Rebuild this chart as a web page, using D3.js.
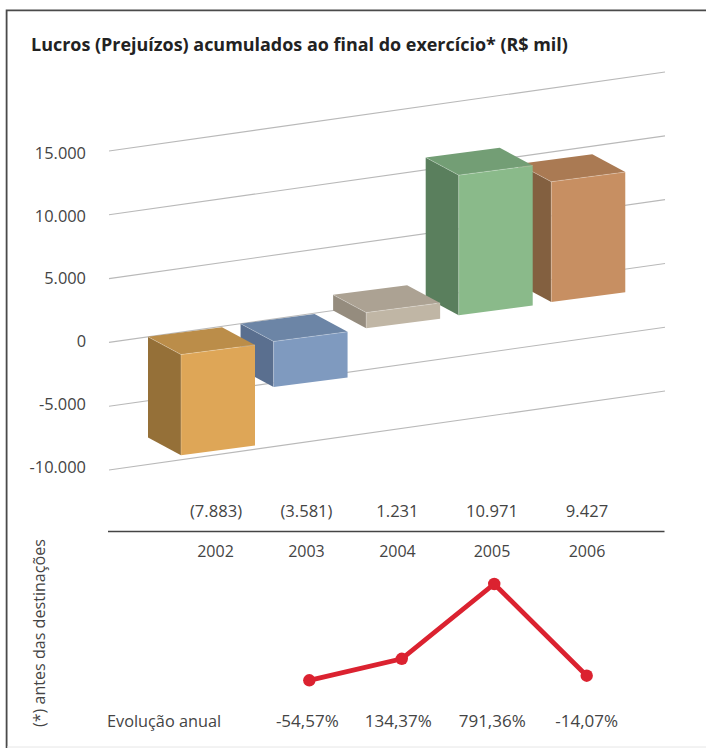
<!DOCTYPE html>
<html><head><meta charset="utf-8">
<style>html,body{margin:0;padding:0;background:#fff}svg{display:block}text{font-family:"Open Sans",sans-serif;fill:#444}</style>
<script src="https://cdn.jsdelivr.net/npm/d3@7"></script></head><body>
<script>
const titleText = "Lucros (Prejuízos) acumulados ao final do exercício* (R$ mil)";
const noteText = "(*) antes das destinações";
const rowLabel = "Evolução anual";
const years = ["2002","2003","2004","2005","2006"];
const profits = [-7883,-3581,1231,10971,9427];
const profitLabels = ["(7.883)","(3.581)","1.231","10.971","9.427"];
const growthYears = ["2003","2004","2005","2006"];
const growth = [-54.57,134.37,791.36,-14.07];
const growthLabels = ["-54,57%","134,37%","791,36%","-14,07%"];
const gridValues = [-10000,-5000,0,5000,10000,15000];
const gridLabels = ["-10.000","-5.000","0","5.000","10.000","15.000"];
const frontColors = ["#dea657","#7f9abf","#c0b6a5","#8aba8a","#c78f62"];
const sideColors  = ["#957038","#5a6f8f","#958c7e","#5a7f5d","#836040"];
const topColors   = ["#bb8d49","#6c85a6","#aca293","#739e75","#aa7a53"];

const W=706,H=749;
const svg=d3.select("body").append("svg").attr("width",W).attr("height",H);
svg.append("path").attr("d","M706,10.3H6.6V748").attr("fill","none").attr("stroke","#4a4a4a").attr("stroke-width",1.8);
svg.append("line").attr("x1",7).attr("x2",706).attr("y1",747).attr("y2",747).attr("stroke","#e6e6e6").attr("stroke-width",1);
svg.append("text").text(titleText).attr("x",31).attr("y",50.5).attr("font-size",17.95).attr("font-weight",700).style("fill","#222");

const gridL=109,gridR=665,slope=0.142,barSlope=0.13,depthX=33,depthY=17.7,barStep=92.57,barW=74;
const y=d3.scaleLinear().domain([-10000,15000]).range([470,151]);
const yLabel=d3.scaleLinear().domain([-10000,15000]).range([472.6,159]);
const x=d3.scaleBand().domain(years).range([148,148+barStep*4+barW]).paddingInner(1-barW/barStep).paddingOuter(0);
const xc=d3.scalePoint().domain(years).range([215.5,587]);
const labelNudge=[0,-1.9,-3.8,-2.1,0];

// gridlines and ticks
svg.append("g").selectAll("line").data(gridValues).join("line")
 .attr("x1",gridL).attr("x2",gridR).attr("y1",d=>y(d)).attr("y2",d=>y(d)-slope*(gridR-gridL))
 .attr("stroke","#b9b9b9").attr("stroke-width",1.1);
svg.append("g").selectAll("text").data(gridValues).join("text")
 .text((d,i)=>gridLabels[i]).attr("x",86).attr("y",d=>yLabel(d)).attr("text-anchor","end").attr("font-size",16.4);

// bars: painted right to left so nearer left bars overlap
const xb=i=>x(years[i]);
const base=(xp,v)=>y(v)-slope*(xp-gridL);
const order=d3.range(years.length).reverse();
const bars=svg.append("g");
const edge="rgba(255,255,255,0.3)";
order.forEach(i=>{
  const x0=xb(i), hi=Math.max(profits[i],0), lo=Math.min(profits[i],0);
  const t=base(x0,hi), b=base(x0,lo), dy=barSlope*barW;
  const g=bars.append("g");
  g.append("polygon").attr("fill",sideColors[i]).attr("points",[[x0,t],[x0+depthX,t+depthY],[x0+depthX,b+depthY],[x0,b]].join(" "));
  g.append("polygon").attr("fill",topColors[i]).attr("points",[[x0,t],[x0+barW,t-dy],[x0+barW+depthX,t-dy+depthY],[x0+depthX,t+depthY]].join(" "));
  g.append("polygon").attr("fill",frontColors[i]).attr("points",[[x0+depthX,t+depthY],[x0+depthX+barW,t+depthY-dy],[x0+depthX+barW,b+depthY-dy],[x0+depthX,b+depthY]].join(" "));
  g.append("path").attr("fill","none").attr("stroke",edge).attr("stroke-width",0.8)
   .attr("d",d3.line()([[x0,t],[x0+depthX,t+depthY],[x0+depthX+barW,t+depthY-dy]])+d3.line()([[x0+depthX,t+depthY],[x0+depthX,b+depthY]]));
});

// table
svg.append("g").selectAll("text").data(profitLabels).join("text").text(d=>d)
 .attr("x",(d,i)=>xc(years[i])+labelNudge[i]+(i===0?0.5:0)).attr("y",517).attr("text-anchor","middle").attr("font-size",16.6);
svg.append("line").attr("x1",108).attr("x2",664.5).attr("y1",531.5).attr("y2",531.5).attr("stroke","#444").attr("stroke-width",1.4);
svg.append("g").selectAll("text").data(years).join("text").text(d=>d)
 .attr("x",(d,i)=>xc(d)+labelNudge[i]).attr("y",556.5).attr("text-anchor","middle").attr("font-size",16);

// growth line
const yg=d3.scaleLinear().domain([-54.57,791.36]).range([680.3,584]);
const xg=d3.scalePoint().domain(growthYears).range([309.3,586.7]);
const pts=growth.map((v,i)=>[xg(growthYears[i]),yg(v)]);
svg.append("path").attr("d",d3.line()(pts)).attr("fill","none").attr("stroke","#db2230").attr("stroke-width",4.8);
svg.append("g").selectAll("circle").data(pts).join("circle").attr("cx",d=>d[0]).attr("cy",d=>d[1]).attr("r",6.2).attr("fill","#db2230");
svg.append("g").selectAll("text").data(growthLabels).join("text").text(d=>d)
 .attr("x",(d,i)=>xg(growthYears[i])+[-2,-3.5,-2,0][i]).attr("y",726.5).attr("text-anchor","middle").attr("font-size",17);
svg.append("text").text(rowLabel).attr("x",107).attr("y",726.5).attr("font-size",16.3);
svg.append("text").text(noteText).attr("transform","translate(45,727) rotate(-90)").attr("font-size",16.1);
</script></body></html>
